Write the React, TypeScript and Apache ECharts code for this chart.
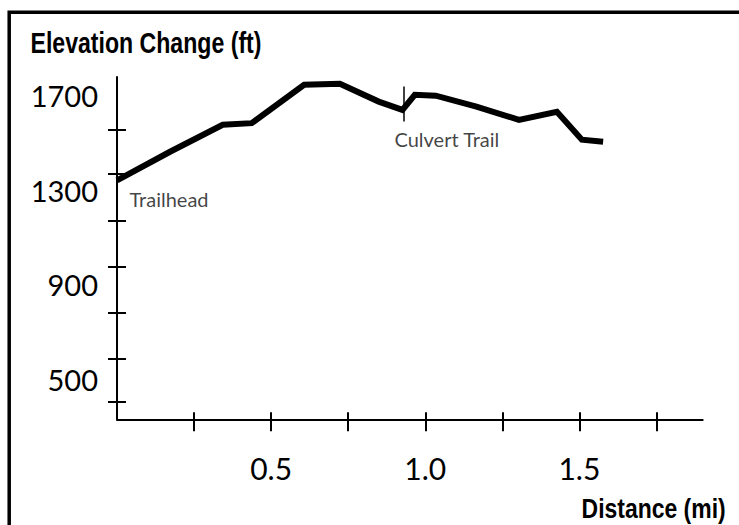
import React, { useEffect, useRef } from 'react';
import * as echarts from 'echarts';

// Trail profile (distance in miles, elevation in feet)
const distanceMi = [0, 0.172, 0.343, 0.437, 0.607, 0.723, 0.849, 0.926, 0.966, 1.034, 1.166, 1.304, 1.427, 1.508, 1.577];
const elevationFt = [1342, 1463, 1577, 1584, 1746, 1750, 1675, 1640, 1704, 1700, 1654, 1598, 1632, 1514, 1505];

// Axis ticks / labels
const yLabelValues = [500, 900, 1300, 1700];
const yTickValues = [405, 588, 782, 976, 1172, 1370, 1556];
const xTickValues = [0.25, 0.5, 0.75, 1.0, 1.25, 1.5, 1.75];
const xLabelValues = [0.5, 1.0, 1.5];

// Annotations
const annotationNames = ['Trailhead', 'Culvert Trail'];
const annotationDistance = [0, 0.931];
const annotationElevation = [1342, 1640];
const culvertMarkerRange = [1591, 1739];

const Y_MIN = 332;
const Y_MAX = 1779;
const X_MIN = 0;
const X_MAX = 1.9;

const REG = 'Lato, "Open Sans", sans-serif';
const BOLD_FONT = 'bold 30px "Liberation Sans", Arial, sans-serif';
const BOLD_FONT_SM = 'bold 28px "Liberation Sans", Arial, sans-serif';

export default function App() {
  const ref = useRef<HTMLDivElement>(null);
  useEffect(() => {
    if (!ref.current) return;
    const chart = echarts.init(ref.current, null, { renderer: 'svg' });
    const labelOffsets: number[][] = [[13, 19], [-9, 30]];
    const option: any = {
      animation: false,
      backgroundColor: '#fff',
      graphic: [
        {
          type: 'rect',
          shape: { x: 9.2, y: 12.3, width: 900, height: 700 },
          style: { fill: 'none', stroke: '#000', lineWidth: 3.5 },
          silent: true,
        },
        {
          type: 'text',
          x: 30.5,
          y: 42.5,
          scaleX: 0.77,
          style: { text: 'Elevation Change (ft)', font: BOLD_FONT, fill: '#000', align: 'left', verticalAlign: 'middle' },
          silent: true,
        },
        {
          type: 'text',
          x: 725.7,
          y: 508,
          scaleX: 0.82,
          style: { text: 'Distance (mi)', font: BOLD_FONT_SM, fill: '#000', align: 'right', verticalAlign: 'middle' },
          silent: true,
        },
      ],
      grid: { left: 117, top: 77, right: 36.3, bottom: 105.7, containLabel: false, outerBoundsMode: 'none' },
      xAxis: [
        {
          type: 'value',
          min: X_MIN,
          max: X_MAX,
          position: 'bottom',
          axisLine: { show: true, onZero: false, lineStyle: { color: '#000', width: 2 } },
          axisTick: { show: true, customValues: xTickValues, length: 12, lineStyle: { color: '#000', width: 2 } },
          axisLabel: {
            customValues: xLabelValues,
            formatter: (v: number) => v.toFixed(1),
            margin: 34,
            color: '#000',
            fontFamily: REG,
            fontSize: 30,
          },
          splitLine: { show: false },
        },
        {
          type: 'value',
          min: X_MIN,
          max: X_MAX,
          position: 'bottom',
          axisLine: { show: false, onZero: false },
          axisTick: { show: true, inside: true, customValues: xTickValues, length: 7, lineStyle: { color: '#000', width: 2 } },
          axisLabel: { show: false },
          splitLine: { show: false },
        },
      ],
      yAxis: [
        {
          type: 'value',
          min: Y_MIN,
          max: Y_MAX,
          position: 'left',
          axisLine: { show: true, onZero: false, lineStyle: { color: '#000', width: 2 } },
          axisTick: { show: true, customValues: yTickValues, length: 9, lineStyle: { color: '#000', width: 2 } },
          axisLabel: {
            customValues: yLabelValues,
            formatter: (v: number) => String(v),
            margin: 19,
            color: '#000',
            fontFamily: REG,
            fontSize: 29,
          },
          splitLine: { show: false },
        },
        {
          type: 'value',
          min: Y_MIN,
          max: Y_MAX,
          position: 'left',
          axisLine: { show: false, onZero: false },
          axisTick: { show: true, inside: true, customValues: yTickValues, length: 9, lineStyle: { color: '#000', width: 2 } },
          axisLabel: { show: false },
          splitLine: { show: false },
        },
      ],
      series: [
        {
          type: 'line',
          xAxisIndex: 0,
          yAxisIndex: 0,
          data: distanceMi.map((d, i) => [d, elevationFt[i]]),
          symbol: 'none',
          lineStyle: { color: '#000', width: 6, cap: 'butt', join: 'miter' },
          markLine: {
            silent: true,
            symbol: ['none', 'none'],
            label: { show: false },
            lineStyle: { color: '#000', width: 1.5, type: 'solid' },
            data: [[{ coord: [annotationDistance[1], culvertMarkerRange[0]] }, { coord: [annotationDistance[1], culvertMarkerRange[1]] }]],
          },
        },
        {
          type: 'scatter',
          xAxisIndex: 0,
          yAxisIndex: 0,
          symbolSize: 1,
          itemStyle: { color: 'rgba(0,0,0,0)' },
          data: annotationNames.map((n, i) => ({
            name: n,
            value: [annotationDistance[i], annotationElevation[i]],
            label: {
              show: true,
              formatter: n,
              position: labelOffsets[i],
              align: 'left',
              verticalAlign: 'middle',
              color: '#111',
              fontFamily: REG,
              fontSize: 20,
            },
          })),
        },
      ],
    };
    chart.setOption(option);
    return () => chart.dispose();
  }, []);
  return <div ref={ref} style={{ position: 'absolute', left: 0, top: 0, width: 739, height: 525 }} />;
}
